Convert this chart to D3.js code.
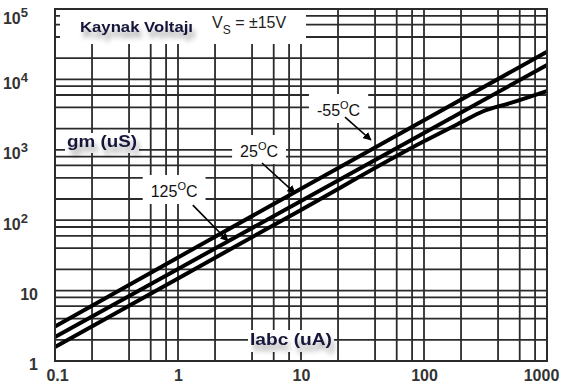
<!DOCTYPE html>
<html>
<head>
<meta charset="utf-8">
<script src="https://cdn.jsdelivr.net/npm/d3@7"></script>
<style>
  body { margin: 0; background: #fff; }
  svg { display: block; }
</style>
</head>
<body>
<svg id="chart" width="567" height="390"></svg>
<script>
// Transconductance gm (uS) versus amplifier bias current Iabc (uA)
const iabc     = [0.1, 1, 10, 100, 1000];
const gmCold   = [3.1, 29.6, 279, 2625, 24700];          // -55 °C
const gmRoom   = [2.19, 20.3, 187, 1734, 16000];         // 25 °C
const iabcHot  = [0.1, 1, 10, 100, 200, 300, 500, 1000];
const gmHot    = [1.58, 14.9, 140, 1320, 2450, 3500, 4600, 6840]; // 125 °C

const xTicks      = [0.1, 1, 10, 100, 1000];
const xTickLabels = ["0.1", "1", "10", "100", "1000"];
const yTicks      = [1, 10, 100, 1000, 10000, 100000];
const yTickBase   = ["1", "10", "10", "10", "10", "10"];
const yTickExp    = ["", "", "2", "3", "4", "5"];
const gridSteps   = [1, 2, 4, 6, 8];

// temperature call-outs: label centre, arrow tail and arrow tip in data units
const calloutTemp  = ["-55", "25", "125"];
const calloutLabel = [[20.2, 3675], [4.56, 961], [0.93, 260]];
const calloutTail  = [[22.8, 2920], [4.82, 649], [1.32, 164]];
const calloutTip   = [[37, 1378], [8.93, 243], [2.55, 50.7]];

const svg = d3.select("#chart");
const x = d3.scaleLog().domain([0.1, 1000]).range([55, 547]);
const y = d3.scaleLog().domain([1, 100000]).range([361, 9]);

const defs = svg.append("defs");
const f = defs.append("filter").attr("id", "shadow")
  .attr("x", "-20%").attr("y", "-60%").attr("width", "150%").attr("height", "260%");
f.append("feGaussianBlur").attr("in", "SourceAlpha").attr("stdDeviation", 2.8);
f.append("feOffset").attr("dx", 3).attr("dy", 6).attr("result", "blur");
f.append("feFlood").attr("flood-color", "#000").attr("flood-opacity", 0.35);
f.append("feComposite").attr("in2", "blur").attr("operator", "in");
const fm = f.append("feMerge");
fm.append("feMergeNode");
fm.append("feMergeNode").attr("in", "SourceGraphic");

defs.append("marker").attr("id", "arrow")
  .attr("viewBox", "0 0 10 10").attr("refX", 9).attr("refY", 5)
  .attr("markerWidth", 5.2).attr("markerHeight", 5.2).attr("orient", "auto")
  .append("path").attr("d", "M0,0 L10,5 L0,10 z").attr("fill", "#000");

// grid
const xGrid = [], yGrid = [];
[-1, 0, 1, 2].forEach(k => gridSteps.forEach(m => xGrid.push(m * Math.pow(10, k))));
xGrid.push(1000);
[0, 1, 2, 3, 4].forEach(k => gridSteps.forEach(m => yGrid.push(m * Math.pow(10, k))));
yGrid.push(100000);

const grid = svg.append("g").attr("stroke", "#2b2b2b").attr("stroke-width", 1.8);
grid.selectAll(".gx").data(xGrid).join("line")
  .attr("x1", d => x(d)).attr("x2", d => x(d))
  .attr("y1", y(1)).attr("y2", y(100000));
grid.selectAll(".gy").data(yGrid).join("line")
  .attr("x1", x(0.1)).attr("x2", x(1000))
  .attr("y1", d => y(d)).attr("y2", d => y(d));

// white panel that interrupts the grid behind the supply-voltage note
const panels = svg.append("g").attr("fill", "#fff");
panels.append("rect").attr("x", 60).attr("y", 10).attr("width", 246).attr("height", 34);

// curves
const line = d3.line().x(d => x(d[0])).y(d => y(d[1])).curve(d3.curveMonotoneX);
const series = [
  d3.zip(iabc, gmCold),
  d3.zip(iabc, gmRoom),
  d3.zip(iabcHot, gmHot)
];
svg.append("g").selectAll("path").data(series).join("path")
  .attr("d", line).attr("fill", "none")
  .attr("stroke", "#000").attr("stroke-width", 4).attr("stroke-linecap", "butt");

// temperature call-outs
const co = svg.append("g").attr("font-family", "'Liberation Sans', Arial, sans-serif").attr("fill", "#111");
calloutTemp.forEach((t, i) => {
  const cx = x(calloutLabel[i][0]), cy = y(calloutLabel[i][1]);
  const g = co.append("g");
  const rect = g.append("rect").attr("fill", "#fff");
  const txt = g.append("text").attr("x", cx).attr("y", cy + 6)
    .attr("text-anchor", "middle").attr("font-size", 16);
  txt.append("tspan").text(t);
  txt.append("tspan").attr("font-size", 11).attr("dy", -7).text("O");
  txt.append("tspan").attr("font-size", 16).attr("dy", 7).text("C");
  const bb = txt.node().getBBox();
  rect.attr("x", bb.x - 8).attr("y", bb.y - 5).attr("width", bb.width + 16).attr("height", bb.height + 9);
  g.append("line")
    .attr("x1", x(calloutTail[i][0])).attr("y1", y(calloutTail[i][1]))
    .attr("x2", x(calloutTip[i][0])).attr("y2", y(calloutTip[i][1]))
    .attr("stroke", "#000").attr("stroke-width", 1.6)
    .attr("marker-end", "url(#arrow)");
});

// frame
svg.append("rect").attr("x", x(0.1)).attr("y", y(100000))
  .attr("width", x(1000) - x(0.1)).attr("height", y(1) - y(100000))
  .attr("fill", "none").attr("stroke", "#2b2b2b").attr("stroke-width", 2);

// axes (labels only; the grid carries the tick positions)
const xAxis = svg.append("g").attr("transform", `translate(0,${y(1)})`)
  .call(d3.axisBottom(x).tickValues(xTicks).tickSize(0).tickPadding(9)
    .tickFormat((d, i) => xTickLabels[i]));
xAxis.select(".domain").remove();
xAxis.selectAll("text")
  .attr("font-family", "'Liberation Sans', Arial, sans-serif")
  .attr("font-size", 16).attr("font-weight", "bold").attr("fill", "#333")
  .attr("dx", (d, i) => i === 0 ? 2 : (i === xTicks.length - 1 ? -6 : 0));

const yAxis = svg.append("g").attr("transform", `translate(${x(0.1)},0)`)
  .call(d3.axisLeft(y).tickValues(yTicks).tickSize(0).tickPadding(17)
    .tickFormat((d, i) => yTickBase[i]));
yAxis.select(".domain").remove();
yAxis.selectAll("text")
  .attr("font-family", "'Liberation Sans', Arial, sans-serif")
  .attr("font-size", 16).attr("font-weight", "bold").attr("fill", "#333")
  .attr("dy", (d, i) => i === yTicks.length - 1 ? "0.9em" : "0.55em")
  .each(function (d, i) {
    if (yTickExp[i]) {
      d3.select(this).attr("x", -27);
      d3.select(this).append("tspan").attr("font-size", 13).attr("dy", -7)
        .text(yTickExp[i]);
    }
  });

// titles
const titleFont = "'Liberation Sans', Arial, sans-serif";
const titles = svg.append("g").attr("font-family", titleFont);

titles.append("text").attr("x", 80).attr("y", 32)
  .attr("font-size", 15).attr("font-weight", "bold").attr("fill", "#16163a")
  .attr("textLength", 113).attr("lengthAdjust", "spacingAndGlyphs")
  .attr("filter", "url(#shadow)").text("Kaynak Voltajı");

const vs = titles.append("text").attr("x", 212).attr("y", 28)
  .attr("font-size", 16).attr("fill", "#222");
vs.append("tspan").text("V");
vs.append("tspan").attr("font-size", 12).attr("dy", 6).text("S");
vs.append("tspan").attr("dy", -6).text(" = ±15V");

function axisTitle(tx, ty, len, size, label) {
  const g = titles.append("g");
  const r = g.append("rect").attr("fill", "#fff");
  const t = g.append("text").attr("x", tx).attr("y", ty)
    .attr("font-size", size).attr("font-weight", "bold").attr("fill", "#16163a")
    .attr("textLength", len).attr("lengthAdjust", "spacingAndGlyphs")
    .attr("filter", "url(#shadow)").text(label);
  const bb = t.node().getBBox();
  r.attr("x", bb.x - 2).attr("y", bb.y).attr("width", bb.width + 4).attr("height", bb.height + 3);
}
axisTitle(67, 147, 70, 16, "gm (uS)");
axisTitle(250, 345, 82, 17, "Iabc (uA)");
</script>
</body>
</html>
